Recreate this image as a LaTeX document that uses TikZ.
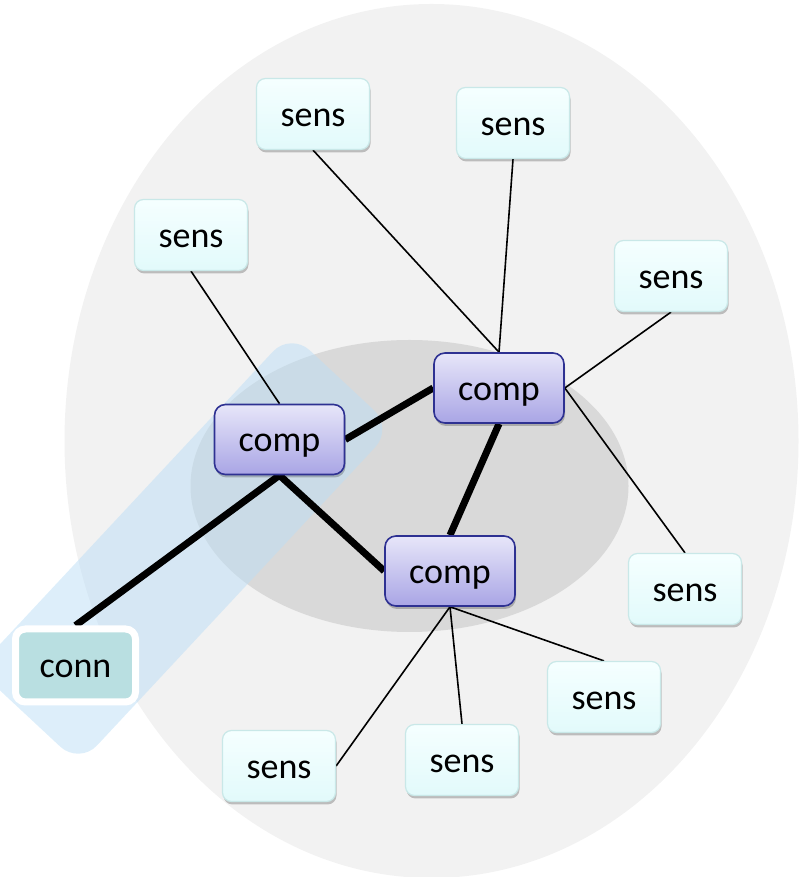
\documentclass[tikz,border=0pt]{standalone}
\usepackage{fontspec}
\setmainfont{Carlito}
\usetikzlibrary{shadows}
\pgfdeclarelayer{bg}
\pgfdeclarelayer{lines}
\pgfsetlayers{bg,lines,main}
\definecolor{outerGray}{HTML}{F2F2F2}
\definecolor{innerGray}{HTML}{D9D9D9}
\definecolor{bandBlue}{HTML}{BCDEF6}
\definecolor{compTop}{HTML}{E7E6F9}
\definecolor{compBot}{HTML}{A9A5E5}
\definecolor{compEdge}{HTML}{2E3192}
\definecolor{sensTop}{HTML}{F5FFFF}
\definecolor{sensBot}{HTML}{E2FAFB}
\definecolor{sensEdge}{HTML}{C9E8E8}
\definecolor{connFill}{HTML}{B9DFE1}
\begin{document}
\begin{tikzpicture}[x=1pt,y=1pt,
  lbl/.style={font=\fontsize{36}{40}\selectfont, text=black, inner sep=0pt, text height=25pt, text depth=0pt},
  shad/.style={drop shadow={shadow xshift=1pt, shadow yshift=-3pt, opacity=0.22, fill=black}},
  sensbox/.style={lbl, rectangle, rounded corners=9pt, minimum width=113pt, minimum height=71pt,
    draw=sensEdge, line width=1.2pt, top color=sensTop, bottom color=sensBot, shad},
  compbox/.style={lbl, rectangle, rounded corners=11pt, minimum width=130pt, minimum height=70pt,
    draw=compEdge, line width=1.6pt, top color=compTop, bottom color=compBot, shad},
  connbox/.style={lbl, rectangle, rounded corners=10pt, minimum width=120pt, minimum height=73pt,
    draw=white, line width=7pt, fill=connFill, shad},
  thin/.style={line width=1.6pt, draw=black},
  thick/.style={line width=7pt, draw=black}
]
\useasboundingbox (0,0) rectangle (798,877);

\begin{pgfonlayer}{bg}
  \fill[outerGray] (431.5,436) ellipse [x radius=367, y radius=437];
  \fill[innerGray] (409.5,391) ellipse [x radius=219, y radius=146];
  \fill[bandBlue, opacity=0.5, rounded corners=26pt, rotate around={47:(185,328.5)}]
    (-45,258.5) rectangle (415,398.5);
\end{pgfonlayer}

% sensors
\node[sensbox] (s1) at (313,763) {sens};
\node[sensbox] (s2) at (513,754) {sens};
\node[sensbox] (s3) at (191,642) {sens};
\node[sensbox] (s4) at (671,601) {sens};
\node[sensbox] (s5) at (685,288) {sens};
\node[sensbox] (s6) at (604,180) {sens};
\node[sensbox] (s7) at (462,117) {sens};
\node[sensbox] (s8) at (279,111) {sens};
% computers
\node[compbox] (c1) at (279.5,437.5) {comp};
\node[compbox] (c2) at (499,489) {comp};
\node[compbox] (c3) at (450,306) {comp};
% connector
\node[connbox] (conn) at (75.5,211.5) {conn};

\begin{pgfonlayer}{lines}
  \draw[thin] (s1.south) -- (c2.north);
  \draw[thin] (s2.south) -- (c2.north);
  \draw[thin] (s3.south) -- (c1.north);
  \draw[thin] (s4.south) -- (c2.east);
  \draw[thin] (s5.north) -- (c2.east);
  \draw[thin] (c3.south) -- (s6.north);
  \draw[thin] (c3.south) -- (s7.north);
  \draw[thin] (c3.south) -- (s8.east);
  \draw[thick] (c1.east) -- (c2.west);
  \draw[thick] (c1.south) -- (c3.west);
  \draw[thick] (c2.south) -- (c3.north);
  \draw[thick] (c1.south) -- (conn.north);
\end{pgfonlayer}
\end{tikzpicture}
\end{document}
